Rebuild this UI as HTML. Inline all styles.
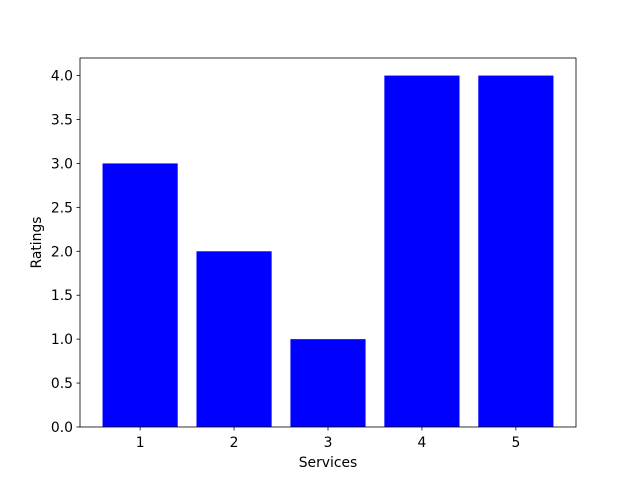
<!DOCTYPE html>
<html><head><meta charset="utf-8"><style>
html,body{margin:0;padding:0;background:#fff;}
svg text{font-family:"DejaVu Sans","Liberation Sans",sans-serif;font-size:13.9px;fill:#000;}
</style></head><body>
<svg id="chart" width="640" height="480" xmlns="http://www.w3.org/2000/svg">
<rect width="640" height="480" fill="#fff"/>
<g id="bars"></g><g id="axes"></g>
</svg>
<script>
const categories = [1, 2, 3, 4, 5];
const ratings = [3, 2, 1, 4, 4];
const yTicks = [0, 0.5, 1, 1.5, 2, 2.5, 3, 3.5, 4];
const yTickLabels = ["0.0","0.5","1.0","1.5","2.0","2.5","3.0","3.5","4.0"];

const L=80,R=576,T=58,B=427;
const xMin=0.36,xMax=5.64,yMin=0,yMax=4.2,bw=0.8;
const sx=v=>L+(v-xMin)/(xMax-xMin)*(R-L);
const sy=v=>B-(v-yMin)/(yMax-yMin)*(B-T);
const NS="http://www.w3.org/2000/svg";
const bars=document.getElementById('bars'), axes=document.getElementById('axes');
function mk(tag,attrs,parent,text){const e=document.createElementNS(NS,tag);for(const k in attrs)e.setAttribute(k,attrs[k]);if(text!==undefined)e.textContent=text;parent.appendChild(e);return e;}

categories.forEach((c,i)=>{
  const r=mk('rect',{x:sx(c-bw/2),y:sy(ratings[i]),width:sx(c+bw/2)-sx(c-bw/2),height:sy(0)-sy(ratings[i]),fill:'#0000ff'},bars);
  
  
  const t=mk('line',{x1:sx(c),x2:sx(c),y1:B,y2:B+3.5,stroke:'#000','stroke-width':0.8},axes);
  
  
  const l=mk('text',{x:sx(c),y:B+20,'text-anchor':'middle'},axes,String(c));
  
  
});
yTicks.forEach((v,i)=>{
  const t=mk('line',{x1:L-3.5,x2:L,y1:sy(v),y2:sy(v),stroke:'#000','stroke-width':0.8},axes);
  
  
  const l=mk('text',{x:L-7,y:sy(v)+5,'text-anchor':'end'},axes,yTickLabels[i]);
  
  
});
const frame=mk('rect',{x:L,y:T,width:R-L,height:B-T,fill:'none',stroke:'#000','stroke-width':0.8},axes);


const xt=mk('text',{x:(L+R)/2,y:467,'text-anchor':'middle'},axes,'Services');


const yt=mk('text',{x:0,y:0,'text-anchor':'middle',transform:`translate(41,${(T+B)/2}) rotate(-90)`},axes,'Ratings');


</script>
</body></html>
